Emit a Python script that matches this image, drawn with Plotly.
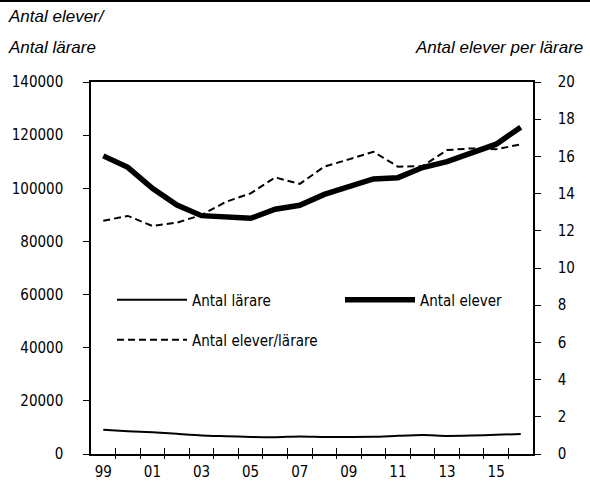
import plotly.graph_objects as go

years = list(range(1999, 2017))
elever = [112.2, 107.9, 100.0, 93.7, 89.7, 89.3, 88.7, 92.1, 93.6, 97.7, 100.4, 103.5, 104.0, 107.8, 110.0, 113.4, 116.6, 123.0]
elever = [v * 1000 for v in elever]
larare = [9.1, 8.55, 8.2, 7.6, 7.0, 6.7, 6.4, 6.3, 6.6, 6.4, 6.4, 6.45, 6.85, 7.15, 6.8, 6.95, 7.2, 7.55]
larare = [v * 1000 for v in larare]
ratio = [12.54, 12.80, 12.26, 12.44, 12.85, 13.56, 14.01, 14.87, 14.52, 15.45, 15.84, 16.25, 15.45, 15.48, 16.34, 16.43, 16.38, 16.65]

tick_years = list(range(1999, 2016, 2))
tick_text = [str(y)[2:] for y in tick_years]
boundaries = [y + 0.5 for y in range(1999, 2016)]

FONT = "DejaVu Sans Condensed, Liberation Sans Narrow, sans-serif"
TFONT = "Liberation Sans, Arial, sans-serif"
FS = 15

fig = go.Figure()
fig.add_trace(go.Scatter(x=years, y=larare, name="Antal lärare", mode="lines",
                         line=dict(color="black", width=2, shape="spline", smoothing=0.6),
                         legend="legend"))
fig.add_trace(go.Scatter(x=years, y=elever, name="Antal elever", mode="lines",
                         line=dict(color="black", width=5.5),
                         legend="legend2"))
fig.add_trace(go.Scatter(x=years, y=ratio, name="Antal elever/lärare", mode="lines",
                         line=dict(color="black", width=2, dash="7px,4px"),
                         xaxis="x2", yaxis="y2", legend="legend3"))

W, H = 590, 482
L, R, T, B = 91, 57, 82, 28
pw, ph = W - L - R, H - T - B


def px_x(x):
    return (x - L) / pw


def px_y(y):
    return 1 - (y - T) / ph


leg_common = dict(orientation="h", xanchor="left", yanchor="middle", bgcolor="rgba(0,0,0,0)",
                  font=dict(family=FONT, size=FS), itemwidth=70)

fig.update_layout(
    width=W, height=H,
    margin=dict(l=L, r=R, t=T, b=B, autoexpand=False),
    paper_bgcolor="white", plot_bgcolor="white",
    font=dict(family=FONT, size=FS, color="black"),
    xaxis=dict(range=[1998.5, 2016.5], tickmode="array", tickvals=tick_years, ticktext=tick_text,
               ticks="outside", ticklen=0, showgrid=False, zeroline=False, automargin=False,
               showline=True, linecolor="black", linewidth=1.5, mirror=True,
               minor=dict(tickmode="array", tickvals=boundaries, ticks="outside", ticklen=3,
                          tickcolor="black", tickwidth=1.2, showgrid=False),
               ticklabelstandoff=3, tickfont=dict(size=FS)),
    xaxis2=dict(range=[1998.5, 2016.5], overlaying="x", anchor="y2", side="bottom",
                tickmode="array", tickvals=boundaries, ticks="inside", ticklen=6,
                tickcolor="black", tickwidth=1.2, showticklabels=False, showgrid=False,
                zeroline=False, showline=False, automargin=False),
    yaxis=dict(range=[0, 140000], dtick=20000, tickformat="d", ticks="outside", ticklen=6,
               tickcolor="black", tickwidth=1.2, showgrid=False, zeroline=False, automargin=False,
               showline=True, linecolor="black", linewidth=1.5,
               ticklabelstandoff=17, tickfont=dict(size=FS)),
    yaxis2=dict(range=[0, 20], dtick=2, overlaying="y", anchor="x2", side="right", ticks="outside", ticklen=6,
                tickcolor="black", tickwidth=1.2, showgrid=False, zeroline=False, automargin=False,
                showline=True, linecolor="black", linewidth=1.5,
                ticklabelstandoff=14, tickfont=dict(size=FS)),
    legend=dict(x=px_x(112), y=px_y(300), **leg_common),
    legend2=dict(x=px_x(340), y=px_y(300), **leg_common),
    legend3=dict(x=px_x(112), y=px_y(340), **leg_common),
    showlegend=True,
)

fig.add_shape(type="line", xref="paper", yref="paper",
              x0=px_x(0), x1=px_x(W), y0=px_y(1), y1=px_y(1),
              line=dict(color="black", width=2))

fig.add_annotation(text="Antal elever/", xref="paper", yref="paper", x=px_x(6), y=px_y(17),
                   xanchor="left", yanchor="middle", showarrow=False,
                   font=dict(family=TFONT, size=17, style="italic"))
fig.add_annotation(text="Antal lärare", xref="paper", yref="paper", x=px_x(6), y=px_y(47),
                   xanchor="left", yanchor="middle", showarrow=False,
                   font=dict(family=TFONT, size=17, style="italic"))
fig.add_annotation(text="Antal elever per lärare", xref="paper", yref="paper", x=px_x(585), y=px_y(47),
                   xanchor="right", yanchor="middle", showarrow=False,
                   font=dict(family=TFONT, size=17, style="italic"))

fig.write_html("out.html", config={"displayModeBar": False},
               post_script="document.body.style.margin='0';")
